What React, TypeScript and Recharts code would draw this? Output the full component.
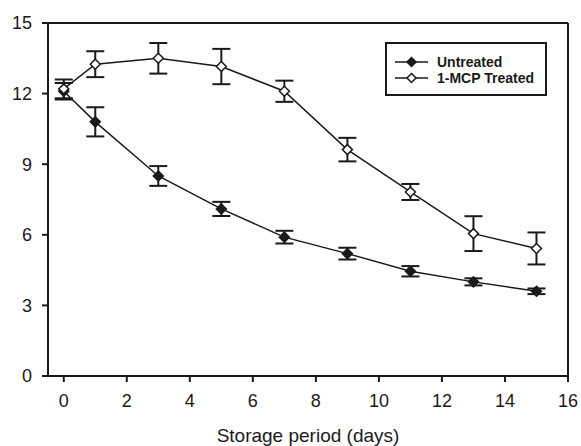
import React from "react";
import { ComposedChart, Line, XAxis, YAxis, ErrorBar, ReferenceLine, Label } from "recharts";

const days = [0, 1, 3, 5, 7, 9, 11, 13, 15];
const untreated = [12.1, 10.8, 8.5, 7.1, 5.9, 5.2, 4.45, 4.0, 3.6];
const untreatedErr = [0.35, 0.62, 0.42, 0.3, 0.27, 0.25, 0.22, 0.15, 0.12];
const treated = [12.2, 13.25, 13.5, 13.15, 12.1, 9.62, 7.82, 6.05, 5.42];
const treatedErr = [0.4, 0.55, 0.65, 0.75, 0.45, 0.5, 0.34, 0.74, 0.68];
const xTicks = [0, 2, 4, 6, 8, 10, 12, 14, 16];
const yTicks = [0, 3, 6, 9, 12, 15];
const seriesNames = ["Untreated", "1-MCP Treated"];

const data = days.map((d, i) => ({
  day: d,
  untreated: untreated[i],
  untreatedErr: untreatedErr[i],
  treated: treated[i],
  treatedErr: treatedErr[i],
}));

const INK = "#1a1a1a";
const FONT = "'Liberation Sans', Arial, sans-serif";

const Diamond = (fill: string) => (props: any) => {
  const { cx, cy } = props;
  if (cx == null || cy == null) return null;
  const r = 5;
  return (
    <polygon
      points={`${cx},${cy - r} ${cx + r},${cy} ${cx},${cy + r} ${cx - r},${cy}`}
      fill={fill}
      stroke={INK}
      strokeWidth={1.5}
    />
  );
};

const LegendBox = () => (
  <div
    style={{
      position: "absolute",
      left: 385,
      top: 42,
      border: `2px solid ${INK}`,
      width: 158,
      height: 50,
      boxSizing: "content-box",
      background: "#fff",
      fontFamily: FONT,
      fontWeight: "bold",
      fontSize: 14,
      color: INK,
    }}
  >
    {seriesNames.map((name, i) => (
      <div key={name} style={{ display: "flex", alignItems: "center", height: 16, marginTop: i === 0 ? 10 : 0 }}>
        <svg width={50} height={16} style={{ display: "block" }}>
          <line x1={8} y1={8} x2={41} y2={8} stroke={INK} strokeWidth={1.5} />
          <polygon points="24.5,3.5 29,8 24.5,12.5 20,8" fill={i === 0 ? INK : "#fff"} stroke={INK} strokeWidth={1.5} />
        </svg>
        <span style={{ lineHeight: "16px", whiteSpace: "nowrap" }}>{name}</span>
      </div>
    ))}
  </div>
);

export default function App() {
  return (
    <div style={{ position: "absolute", left: 0, top: 0, width: 581, height: 446, background: "#fff" }}>
      <ComposedChart
        width={581}
        height={446}
        data={data}
        margin={{ top: 23, right: 13, bottom: 0, left: 0 }}
      >
        <XAxis
          dataKey="day"
          type="number"
          domain={[-0.5, 16]}
          ticks={xTicks}
          allowDataOverflow
          height={70}
          tickSize={6}
          tickMargin={12}
          stroke={INK}
          strokeWidth={2}
          tick={{ fill: INK, fontSize: 18, fontFamily: FONT }}
          tickLine={{ stroke: INK, strokeWidth: 2 }}
        >
          <Label
            value="Storage period (days)"
            position="insideBottom"
            offset={4}
            style={{ fill: INK, fontSize: 19, fontFamily: FONT }}
          />
        </XAxis>
        <YAxis
          type="number"
          domain={[0, 15]}
          ticks={yTicks}
          width={48}
          tickSize={6}
          tickMargin={10}
          stroke={INK}
          strokeWidth={2}
          tick={{ fill: INK, fontSize: 18, fontFamily: FONT }}
          tickLine={{ stroke: INK, strokeWidth: 2 }}
        />
        <ReferenceLine y={15} stroke={INK} strokeWidth={2} />
        <ReferenceLine x={16} stroke={INK} strokeWidth={2} />
        <Line
          dataKey="untreated"
          name={seriesNames[0]}
          stroke={INK}
          strokeWidth={1.5}
          dot={Diamond(INK)}
          activeDot={false}
          isAnimationActive={false}
        >
          <ErrorBar dataKey="untreatedErr" direction="y" width={9} stroke={INK} strokeWidth={2} />
        </Line>
        <Line
          dataKey="treated"
          name={seriesNames[1]}
          stroke={INK}
          strokeWidth={1.5}
          dot={Diamond("#fff")}
          activeDot={false}
          isAnimationActive={false}
        >
          <ErrorBar dataKey="treatedErr" direction="y" width={9} stroke={INK} strokeWidth={2} />
        </Line>
      </ComposedChart>
      <LegendBox />
    </div>
  );
}
